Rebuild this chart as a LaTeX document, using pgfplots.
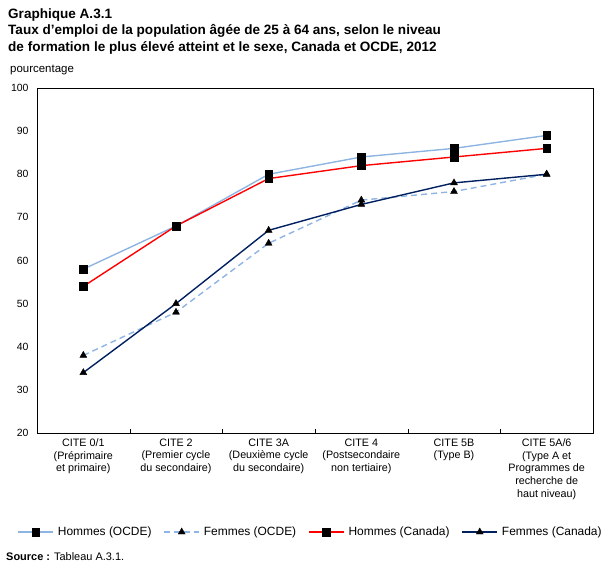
\documentclass[border=0pt]{standalone}
\usepackage{fontspec}
\setmainfont{Liberation Sans}
\usepackage{pgfplots}
\pgfplotsset{compat=1.18}
\definecolor{lblue}{RGB}{141,180,226}
\definecolor{cred}{RGB}{255,0,0}
\definecolor{navy}{RGB}{0,32,96}
\begin{document}
\begin{tikzpicture}
\begin{axis}[
  width=556bp, height=345bp, scale only axis,
  xmin=-0.5, xmax=5.5, ymin=20, ymax=100,
  ytick={20,30,...,100},
  ytick style={draw=none},
  yticklabel style={font=\fontsize{10.5}{12}\selectfont, xshift=-5bp},
  /pgf/number format/assume math mode=true,
  xtick={0,1,2,3,4,5},
  xticklabels={{CITE 0/1\\(Préprimaire\\et primaire)},
               {CITE 2\\(Premier cycle\\du secondaire)},
               {CITE 3A\\(Deuxième cycle\\du secondaire)},
               {CITE 4\\(Postsecondaire\\non tertiaire)},
               {CITE 5B\\(Type B)},
               {CITE 5A/6\\(Type A et\\Programmes de\\recherche de\\haut niveau)}},
  xticklabel style={font=\fontsize{10.8}{12.8}\selectfont, align=center, yshift=-2bp},
  major x tick style={draw=none},
  extra x ticks={0.5,1.5,2.5,3.5,4.5},
  extra x tick labels={},
  extra x tick style={major tick length=4bp, tick align=inside, xtick pos=lower, major x tick style={draw=black}},
  axis line style={black, line width=0.8pt},
  legend columns=4,
  legend style={draw=none, at={(axis description cs:0.492,-0.287)}, anchor=center,
    font=\fontsize{12}{14}\selectfont,
    /tikz/every even column/.append style={column sep=10bp},
    /tikz/every odd column/.append style={column sep=2bp}},
  legend image code/.code={\draw[mark repeat=2,mark phase=2,#1] plot coordinates {(0bp,0bp) (17.5bp,0bp) (35bp,0bp)};},
  every axis plot/.append style={line width=1.4pt},
]
\addplot[color=lblue, mark=square*, mark size=3.8bp, mark options={solid, draw=black, fill=black, line width=0.4pt}]
  coordinates {(0,58) (1,68) (2,80) (3,84) (4,86) (5,89)};
\addlegendentry{Hommes (OCDE)}
\addplot[color=lblue, dashed, dash pattern=on 6bp off 4bp, mark=triangle*, mark size=4bp, mark options={solid, draw=black, fill=black, line width=0.4pt}]
  coordinates {(0,38) (1,48) (2,64) (3,74) (4,76) (5,80)};
\addlegendentry{Femmes (OCDE)}
\addplot[color=cred, mark=square*, mark size=3.8bp, mark options={solid, draw=black, fill=black, line width=0.4pt}]
  coordinates {(0,54) (1,68) (2,79) (3,82) (4,84) (5,86)};
\addlegendentry{Hommes (Canada)}
\addplot[color=navy, mark=triangle*, mark size=4bp, mark options={solid, draw=black, fill=black, line width=0.4pt}]
  coordinates {(0,34) (1,50) (2,67) (3,73) (4,78) (5,80)};
\addlegendentry{Femmes (Canada)}
\end{axis}
\node[anchor=base west, font=\bfseries\fontsize{13.6}{15}\selectfont, inner sep=0pt] at (-29bp,414.7bp) {Graphique A.3.1};
\node[anchor=base west, font=\bfseries\fontsize{13.6}{15}\selectfont, inner sep=0pt] at (-29bp,398bp) {Taux d’emploi de la population âgée de 25 à 64 ans, selon le niveau};
\node[anchor=base west, font=\bfseries\fontsize{13.6}{15}\selectfont, inner sep=0pt] at (-29bp,381bp) {de formation le plus élevé atteint et le sexe, Canada et OCDE, 2012};
\node[anchor=base west, font=\fontsize{11.5}{13}\selectfont, inner sep=0pt] at (-27bp,360bp) {pourcentage};
\node[anchor=base west, font=\fontsize{11}{13}\selectfont, inner sep=0pt] at (-31bp,-127bp) {\textbf{Source :} Tableau A.3.1.};
\pgfresetboundingbox
\useasboundingbox (-37bp,-136bp) rectangle (572bp,433bp);
\end{tikzpicture}
\end{document}
